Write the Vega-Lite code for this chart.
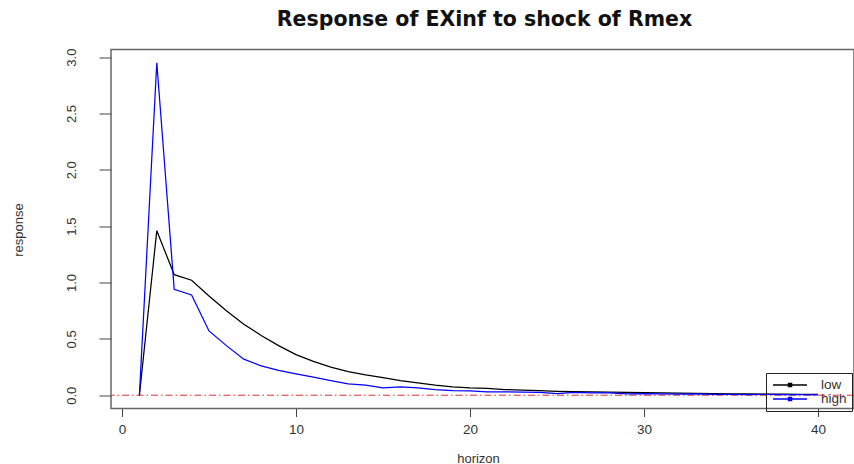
{
  "$schema": "https://vega.github.io/schema/vega-lite/v6.json",
  "autosize": {"type": "none"},
  "padding": {"left": 111, "top": 49.5, "right": 0, "bottom": 55.5},
  "width": 743,
  "height": 359,
  "background": "white",
  "title": {
    "text": "Response of EXinf to shock of Rmex",
    "font": "DejaVu Sans",
    "fontWeight": "bold",
    "fontSize": 20.5,
    "color": "#111",
    "anchor": "middle",
    "frame": "group",
    "baseline": "alphabetic",
    "offset": 2,
    "dx": 2
  },
  "config": {
    "view": {"stroke": "#666", "strokeWidth": 1.5},
    "axis": {
      "labelFont": "Liberation Sans",
      "titleFont": "Liberation Sans",
      "labelColor": "#333",
      "titleColor": "#333",
      "tickColor": "#444",
      "grid": false,
      "domain": false
    }
  },
  "datasets": {
    "irf": [
      {"h": 1, "series": "low", "value": 0},
      {"h": 2, "series": "low", "value": 1.46},
      {"h": 3, "series": "low", "value": 1.07},
      {"h": 4, "series": "low", "value": 1.02},
      {"h": 5, "series": "low", "value": 0.88},
      {"h": 6, "series": "low", "value": 0.75},
      {"h": 7, "series": "low", "value": 0.63},
      {"h": 8, "series": "low", "value": 0.53},
      {"h": 9, "series": "low", "value": 0.44},
      {"h": 10, "series": "low", "value": 0.36},
      {"h": 11, "series": "low", "value": 0.3},
      {"h": 12, "series": "low", "value": 0.25},
      {"h": 13, "series": "low", "value": 0.21},
      {"h": 14, "series": "low", "value": 0.18},
      {"h": 15, "series": "low", "value": 0.155},
      {"h": 16, "series": "low", "value": 0.13},
      {"h": 17, "series": "low", "value": 0.11},
      {"h": 18, "series": "low", "value": 0.09},
      {"h": 19, "series": "low", "value": 0.075},
      {"h": 20, "series": "low", "value": 0.065},
      {"h": 21, "series": "low", "value": 0.06},
      {"h": 22, "series": "low", "value": 0.05},
      {"h": 23, "series": "low", "value": 0.045},
      {"h": 24, "series": "low", "value": 0.04},
      {"h": 25, "series": "low", "value": 0.035},
      {"h": 26, "series": "low", "value": 0.032},
      {"h": 27, "series": "low", "value": 0.03},
      {"h": 28, "series": "low", "value": 0.027},
      {"h": 29, "series": "low", "value": 0.025},
      {"h": 30, "series": "low", "value": 0.022},
      {"h": 31, "series": "low", "value": 0.02},
      {"h": 32, "series": "low", "value": 0.018},
      {"h": 33, "series": "low", "value": 0.016},
      {"h": 34, "series": "low", "value": 0.014},
      {"h": 35, "series": "low", "value": 0.012},
      {"h": 36, "series": "low", "value": 0.011},
      {"h": 37, "series": "low", "value": 0.01},
      {"h": 38, "series": "low", "value": 0.009},
      {"h": 39, "series": "low", "value": 0.008},
      {"h": 40, "series": "low", "value": 0.007},
      {"h": 1, "series": "high", "value": 0},
      {"h": 2, "series": "high", "value": 2.95},
      {"h": 3, "series": "high", "value": 0.94},
      {"h": 4, "series": "high", "value": 0.89},
      {"h": 5, "series": "high", "value": 0.57},
      {"h": 6, "series": "high", "value": 0.44},
      {"h": 7, "series": "high", "value": 0.32},
      {"h": 8, "series": "high", "value": 0.26},
      {"h": 9, "series": "high", "value": 0.22},
      {"h": 10, "series": "high", "value": 0.19},
      {"h": 11, "series": "high", "value": 0.16},
      {"h": 12, "series": "high", "value": 0.13},
      {"h": 13, "series": "high", "value": 0.1},
      {"h": 14, "series": "high", "value": 0.09},
      {"h": 15, "series": "high", "value": 0.066},
      {"h": 16, "series": "high", "value": 0.075},
      {"h": 17, "series": "high", "value": 0.066},
      {"h": 18, "series": "high", "value": 0.05},
      {"h": 19, "series": "high", "value": 0.04},
      {"h": 20, "series": "high", "value": 0.038},
      {"h": 21, "series": "high", "value": 0.03},
      {"h": 22, "series": "high", "value": 0.03},
      {"h": 23, "series": "high", "value": 0.028},
      {"h": 24, "series": "high", "value": 0.024},
      {"h": 25, "series": "high", "value": 0.015},
      {"h": 26, "series": "high", "value": 0.024},
      {"h": 27, "series": "high", "value": 0.02},
      {"h": 28, "series": "high", "value": 0.02},
      {"h": 29, "series": "high", "value": 0.012},
      {"h": 30, "series": "high", "value": 0.015},
      {"h": 31, "series": "high", "value": 0.012},
      {"h": 32, "series": "high", "value": 0.01},
      {"h": 33, "series": "high", "value": 0.012},
      {"h": 34, "series": "high", "value": 0.008},
      {"h": 35, "series": "high", "value": 0.008},
      {"h": 36, "series": "high", "value": 0.006},
      {"h": 37, "series": "high", "value": 0.007},
      {"h": 38, "series": "high", "value": 0.005},
      {"h": 39, "series": "high", "value": 0.005},
      {"h": 40, "series": "high", "value": 0.004}
    ],
    "zero": [{"y": 0}]
  },
  "layer": [
    {
      "data": {"name": "zero"},
      "mark": {"type": "rule", "color": "#e03030", "strokeWidth": 1, "strokeDash": [7, 3, 1.5, 3]},
      "encoding": {
        "y": {"field": "y", "type": "quantitative", "scale": {"domain": [-0.118, 3.068], "nice": false, "zero": false}}
      }
    },
    {
      "data": {"name": "irf"},
      "mark": {"type": "line", "strokeWidth": 1.25, "clip": true},
      "encoding": {
        "x": {
          "field": "h",
          "type": "quantitative",
          "scale": {"domain": [-0.632, 42.07], "nice": false, "zero": false},
          "axis": {
            "values": [0, 10, 20, 30, 40],
            "format": "d",
            "tickSize": 8,
            "labelFontSize": 13.5,
            "labelPadding": 6,
            "labelFlush": false,
            "title": "horizon",
            "titleFontSize": 13,
            "titleFontWeight": "normal",
            "titleX": 367,
            "titleY": 50,
            "titleBaseline": "middle",
            "titleAnchor": null
          }
        },
        "y": {
          "field": "value",
          "type": "quantitative",
          "scale": {"domain": [-0.118, 3.068], "nice": false, "zero": false},
          "axis": {
            "values": [0, 0.5, 1, 1.5, 2, 2.5, 3],
            "format": ".1f",
            "tickSize": 12,
            "labelFontSize": 13,
            "labelAngle": -90,
            "labelAlign": "center",
            "labelBaseline": "alphabetic",
            "labelPadding": 24,
            "labelFlush": false,
            "labelOverlap": false,
            "title": "response",
            "titleFontSize": 13,
            "titleFontWeight": "normal",
            "titleAngle": -90,
            "titleX": -93,
            "titleY": 180,
            "titleAlign": "center",
            "titleBaseline": "middle",
            "titleAnchor": null
          }
        },
        "color": {
          "field": "series",
          "type": "nominal",
          "sort": ["low", "high"],
          "scale": {"domain": ["low", "high"], "range": ["#000000", "#0000ff"]},
          "legend": {
            "title": null,
            "orient": "none",
            "legendX": 655,
            "legendY": 323.5,
            "strokeColor": "#222",
            "padding": 5,
            "symbolType": "M-0.83,0H4.83M1.75,-0.25H2.25V0.25H1.75Z",
            "symbolSize": 144,
            "symbolStrokeWidth": 1.5,
            "labelFont": "Liberation Sans",
            "labelFontSize": 13.5,
            "labelColor": "#333",
            "labelOffset": 36,
            "rowPadding": 0
          }
        }
      }
    }
  ]
}
